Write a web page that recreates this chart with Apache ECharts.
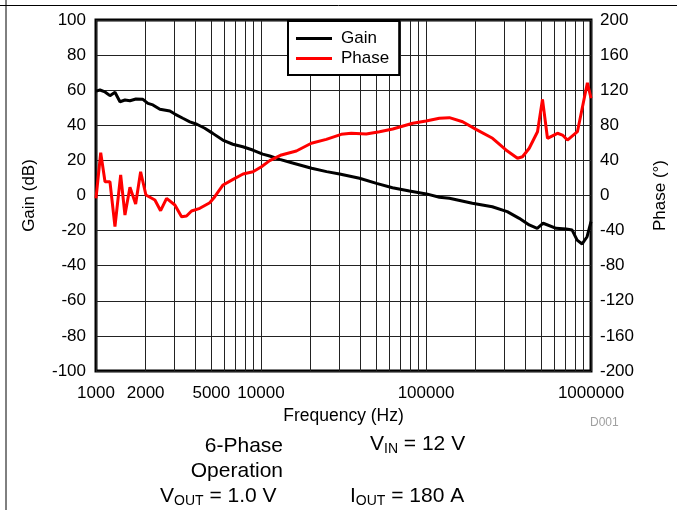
<!DOCTYPE html>
<html>
<head>
<meta charset="utf-8">
<script src="https://cdn.jsdelivr.net/npm/echarts@6/dist/echarts.min.js"></script>
<style>
html,body{margin:0;padding:0;background:#fff;}
#chart{width:677px;height:510px;}
</style>
</head>
<body>
<div id="chart"></div>
<script>
// ---- data ----
var gainFreq = [1000,1057,1134,1215,1303,1397,1498,1606,1746,1924,2063,2212,2439,2804,3006,3360,3705,4083,4564,5103,5867,6744,7752,8909,10240,11290,12980,15340,20260,24980,29940,39550,50120,62620,79360,100550,120530,138590,190900,252200,310700,367300,422200,472000,513200,615100,707200,768700,824100,883700,947100,1000000];
var gainDb = [59.5,60.1,59,56.9,58.8,53.4,54.4,54,55,54.8,52.5,51.6,49.1,48.1,46.4,44,42,40.6,38.3,35.4,31.6,29.2,27.8,25.9,23.6,22.5,20.6,18.7,15.5,13.6,12.3,9.8,6.9,4.4,2.6,0.9,-1,-1.6,-4.4,-6.4,-9.2,-13,-16.8,-18.7,-15.8,-18.7,-19.1,-19.7,-25.4,-27.6,-23.5,-14.9];
var phaseFreq = [1000,1068,1134,1215,1303,1411,1498,1606,1739,1864,2007,2275,2463,2678,3006,3300,3538,3793,4258,4893,5247,5890,6772,7784,8946,10060,11290,13290,16380,20180,24870,30640,35240,43420,52260,62890,83100,100100,120500,138600,166700,201000,253200,305100,358700,384500,422200,474000,508200,544800,626300,671400,719700,827400,951000,1000000];
var phaseDeg = [-3.2,48.8,15.7,15.7,-35.5,23.4,-22.2,9.3,-9.7,27.1,0.6,-5.1,-17.3,-3.2,-10.8,-24.1,-23.4,-17.7,-14.6,-8.2,-1.4,12,18.4,24.5,27.1,32.8,39.7,46.2,50.7,59.5,64,69.7,70.9,70,72.7,75.8,82.3,84.9,88,88.7,84.1,75.4,65.2,51.9,42.4,44.2,53.8,72.7,109.6,65.2,70.9,68.9,63.2,72.7,128.5,110.8];
var xLabelValues = [1000,2000,5000,10000,100000,1000000];
var xGridValues = [1000,2000,3000,4000,5000,6000,7000,8000,9000,10000,20000,30000,40000,50000,60000,70000,80000,90000,100000,200000,300000,400000,500000,600000,700000,800000,900000,1000000];
var seriesNames = ['Gain','Phase'];

function pairs(xs, ys){ return xs.map(function(x,i){ return [x, ys[i]]; }); }

var font = 'Liberation Sans, Arial, sans-serif';
var chart = echarts.init(document.getElementById('chart'));
chart.setOption({
  animation: false,
  backgroundColor: '#fff',
  textStyle: { fontFamily: font },
  grid: { left: 96, right: 85, top: 20, bottom: 139, show: true, borderColor: '#000', borderWidth: 3, backgroundColor: 'transparent' },
  legend: {
    orient: 'vertical', left: 288, top: 21,
    backgroundColor: '#fff', borderColor: '#000', borderWidth: 2,
    padding: [9, 10, 8, 8], itemGap: 3, itemWidth: 36, itemHeight: 3, icon: 'rect',
    textStyle: { fontSize: 17, color: '#000', fontFamily: font, padding: [0, 0, 0, 4] },
    data: seriesNames
  },
  xAxis: {
    type: 'log', logBase: 10, min: 1000, max: 1000000,
    name: 'Frequency (Hz)', nameLocation: 'middle', nameGap: 36,
    nameTextStyle: { fontSize: 17.5, color: '#000', fontFamily: font },
    axisLine: { show: false },
    axisTick: { show: false, customValues: xGridValues },
    axisLabel: { customValues: xLabelValues, fontSize: 17, color: '#000', margin: 14, fontFamily: font,
      formatter: function(v){ return String(Math.round(v)); } },
    splitLine: { show: true, lineStyle: { color: '#222', width: 1 } }
  },
  yAxis: [{
    type: 'value', min: -100, max: 100, interval: 20,
    name: 'Gain (dB)', nameLocation: 'middle', nameGap: 58,
    nameTextStyle: { fontSize: 17, color: '#000', fontFamily: font },
    axisLine: { show: false }, axisTick: { show: false },
    axisLabel: { fontSize: 17, color: '#000', margin: 10, fontFamily: font },
    splitLine: { show: true, lineStyle: { color: '#222', width: 1 } }
  }, {
    type: 'value', min: -200, max: 200, interval: 40, position: 'right',
    name: 'Phase (°)', nameLocation: 'middle', nameGap: 61,
    nameTextStyle: { fontSize: 17, color: '#000', fontFamily: font },
    axisLine: { show: false }, axisTick: { show: false },
    axisLabel: { fontSize: 17, color: '#000', margin: 9, fontFamily: font },
    splitLine: { show: false }
  }],
  series: [{
    name: seriesNames[0], type: 'line', data: pairs(gainFreq, gainDb), yAxisIndex: 0,
    symbol: 'none', lineStyle: { color: '#000', width: 3 }, itemStyle: { color: '#000' }, z: 3
  }, {
    name: seriesNames[1], type: 'line', data: pairs(phaseFreq, phaseDeg), yAxisIndex: 1,
    symbol: 'none', lineStyle: { color: '#ff0000', width: 3 }, itemStyle: { color: '#ff0000' }, z: 4
  }],
  graphic: [
    { type: 'line', shape: { x1: 6, y1: 0, x2: 6, y2: 510 }, style: { stroke: '#000', lineWidth: 1 } },
    { type: 'line', shape: { x1: 0, y1: 5.5, x2: 677, y2: 5.5 }, style: { stroke: '#000', lineWidth: 1 } },
    { type: 'text', left: 590, top: 417, style: { text: 'D001', font: '12px ' + font, fill: '#a0a0a0' } },
    { type: 'text', right: 394, top: 436, style: { text: '6-Phase', font: '21px ' + font, fill: '#000', textAlign: 'right' } },
    { type: 'text', right: 394, top: 461, style: { text: 'Operation', font: '21px ' + font, fill: '#000', textAlign: 'right' } },
    { type: 'text', left: 160, top: 486, style: {
      text: '{a|V}{s|OUT}{a| = 1.0 V}',
      rich: { a: { fontSize: 21, fontFamily: font, color: '#000' }, s: { fontSize: 14, fontFamily: font, color: '#000', padding: [10, 0, 0, 0] } } } },
    { type: 'text', left: 370, top: 434, style: {
      text: '{a|V}{s|IN}{a| = 12 V}',
      rich: { a: { fontSize: 21, fontFamily: font, color: '#000' }, s: { fontSize: 14, fontFamily: font, color: '#000', padding: [10, 0, 0, 0] } } } },
    { type: 'text', left: 350, top: 486, style: {
      text: '{a|I}{s|OUT}{a| = 180 A}',
      rich: { a: { fontSize: 21, fontFamily: font, color: '#000' }, s: { fontSize: 14, fontFamily: font, color: '#000', padding: [10, 0, 0, 0] } } } }
  ]
});
</script>
</body>
</html>
